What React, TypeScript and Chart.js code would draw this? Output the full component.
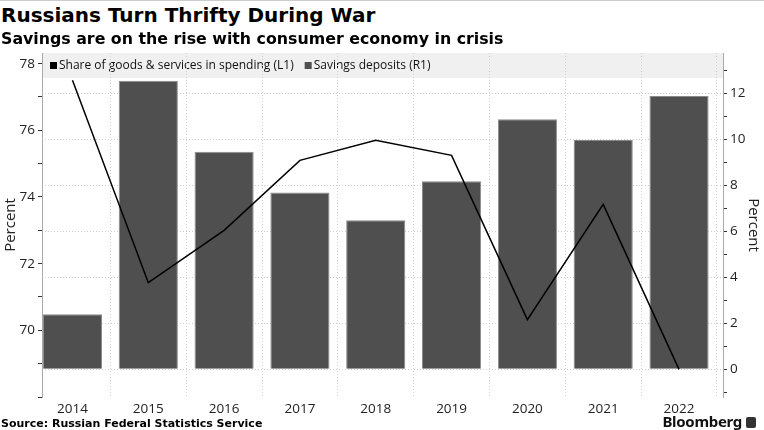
import { useEffect, useRef } from "react";
import { Chart, registerables } from "chart.js";

Chart.register(...registerables);

const years = [2014, 2015, 2016, 2017, 2018, 2019, 2020, 2021, 2022];
// share of goods & services in spending, % (left axis)
const spendingShare = [77.5, 71.43, 73.0, 75.1, 75.7, 75.25, 70.32, 73.78, 68.83];
// savings deposits, % (right axis)
const savingsDeposits = [2.39, 12.53, 9.45, 7.68, 6.48, 8.17, 10.86, 9.96, 11.87];

const legendItems = [
  { label: "Share of goods & services in spending (L1)", color: "#000000" },
  { label: "Savings deposits (R1)", color: "#4f4f4f" },
];

const tickFont = { family: "'Open Sans', sans-serif", size: 13.5 };

const legendBand = {
  id: "legendBand",
  beforeDraw(chart: Chart) {
    const { ctx, chartArea } = chart;
    ctx.save();
    ctx.fillStyle = "#f0f0f0";
    ctx.fillRect(chartArea.left, chartArea.top, chartArea.right - chartArea.left, 25);
    ctx.font = "12px 'Open Sans', sans-serif";
    ctx.textBaseline = "middle";
    let x = chartArea.left + 8;
    const y = chartArea.top + 13;
    legendItems.forEach((item) => {
      ctx.fillStyle = item.color;
      ctx.fillRect(x, y - 4, 7, 7);
      x += 9;
      ctx.fillStyle = "#111";
      ctx.fillText(item.label, x, y);
      x += ctx.measureText(item.label).width + 11;
    });
    ctx.restore();
  },
};

export default function App() {
  const canvasRef = useRef<HTMLCanvasElement>(null);

  useEffect(() => {
    if (!canvasRef.current) return;
    const chart = new Chart(canvasRef.current, {
      type: "bar",
      data: {
        datasets: [
          {
            type: "line",
            label: legendItems[0].label,
            data: years.map((y, i) => ({ x: y, y: spendingShare[i] })),
            yAxisID: "y",
            borderColor: "#000",
            borderWidth: 1.5,
            pointRadius: 0,
            tension: 0,
          },
          {
            type: "bar",
            label: legendItems[1].label,
            data: years.map((y, i) => ({ x: y, y: savingsDeposits[i] })),
            yAxisID: "y1",
            backgroundColor: "#4f4f4f",
            borderColor: "#8a8a8a",
            borderWidth: 1,
            barPercentage: 0.78,
            categoryPercentage: 1,
          },
        ],
      },
      options: {
        animation: false,
        responsive: true,
        maintainAspectRatio: false,
        parsing: false,
        layout: { padding: { top: 13, left: 0, right: 0, bottom: 0 } },
        plugins: { legend: { display: false }, tooltip: { enabled: false } },
        scales: {
          x: {
            type: "linear",
            min: 2013.598,
            max: 2022.58,
            offset: false,
            grid: { color: "#d0d0d0", drawTicks: false },
            border: { display: false, dash: [1, 2] },
            ticks: {
              stepSize: 1,
              includeBounds: false,
              font: tickFont,
              color: "#222",
              padding: 4,
              maxRotation: 0,
              autoSkip: false,
              callback: (v: any) => String(v),
            },
            afterFit: (s: any) => {
              s.height = 23;
            },
          },
          y: {
            position: "left",
            min: 68,
            max: 78.32,
            grid: { drawOnChartArea: false, tickLength: 4, tickColor: "#333" },
            border: { color: "#aaa" },
            ticks: {
              stepSize: 1,
              includeBounds: false,
              font: tickFont,
              color: "#222",
              padding: 3,
              callback: (v: any) => (v % 2 === 0 && v > 68 ? String(v) : ""),
            },
            title: {
              display: true,
              text: "Percent",
              font: { family: "'Open Sans', sans-serif", size: 15 },
              color: "#222",
              padding: { top: 2, bottom: 0 },
            },
            afterFit: (s: any) => {
              s.width = 42;
            },
          },
          y1: {
            position: "right",
            min: -1.2,
            max: 13.74,
            grid: {
              drawOnChartArea: true,
              tickLength: 4,
              tickColor: "#333",
              color: (c: any) =>
                c.tick && c.tick.value >= 0 && c.tick.value % 2 === 0 ? "#cfcfcf" : "rgba(0,0,0,0)",
            },
            border: { color: "#aaa", dash: [1, 2] },
            ticks: {
              stepSize: 1,
              includeBounds: false,
              font: tickFont,
              color: "#222",
              padding: 3,
              callback: (v: any) => (v % 2 === 0 && v >= 0 ? String(v) : ""),
            },
            title: {
              display: true,
              text: "Percent",
              font: { family: "'Open Sans', sans-serif", size: 15 },
              color: "#222",
              padding: { top: 2, bottom: 0 },
            },
            afterFit: (s: any) => {
              s.width = 41;
            },
          },
        },
      },
      plugins: [legendBand],
    });
    return () => chart.destroy();
  }, []);

  return (
    <div
      style={{
        position: "fixed",
        left: 0,
        top: 0,
        width: 764,
        height: 430,
        background: "#fff",
        overflow: "hidden",
        fontFamily: "'DejaVu Sans', sans-serif",
      }}
    >
      <div style={{ position: "absolute", left: 0, top: 0, width: 764, height: 1, background: "#ccc" }} />
      <div style={{ position: "absolute", left: 0, top: 40, width: 764, height: 380 }}>
        <canvas ref={canvasRef} />
      </div>
      <div
        style={{ position: "absolute", left: 1, top: 3, fontSize: 20, fontWeight: "bold", lineHeight: "24px", color: "#000", whiteSpace: "nowrap" }}
      >
        Russians Turn Thrifty During War
      </div>
      <div
        style={{ position: "absolute", left: 1, top: 29, fontSize: 15.8, fontWeight: "bold", lineHeight: "20px", color: "#000", whiteSpace: "nowrap" }}
      >
        Savings are on the rise with consumer economy in crisis
      </div>
      <div
        style={{ position: "absolute", left: 1, top: 417, fontSize: 11, fontWeight: "bold", lineHeight: "14px", color: "#000", whiteSpace: "nowrap" }}
      >
        Source: Russian Federal Statistics Service
      </div>
      <div
        style={{
          position: "absolute",
          right: 22,
          top: 413,
          fontSize: 15,
          fontWeight: "bold",
          lineHeight: "17px",
          color: "#111",
          fontFamily: "'Noto Sans', sans-serif",
          whiteSpace: "nowrap",
          letterSpacing: -0.3,
        }}
      >
        Bloomberg
      </div>
      <div style={{ position: "absolute", left: 746, top: 417, width: 10, height: 11, background: "#333", borderRadius: 2 }} />
    </div>
  );
}
